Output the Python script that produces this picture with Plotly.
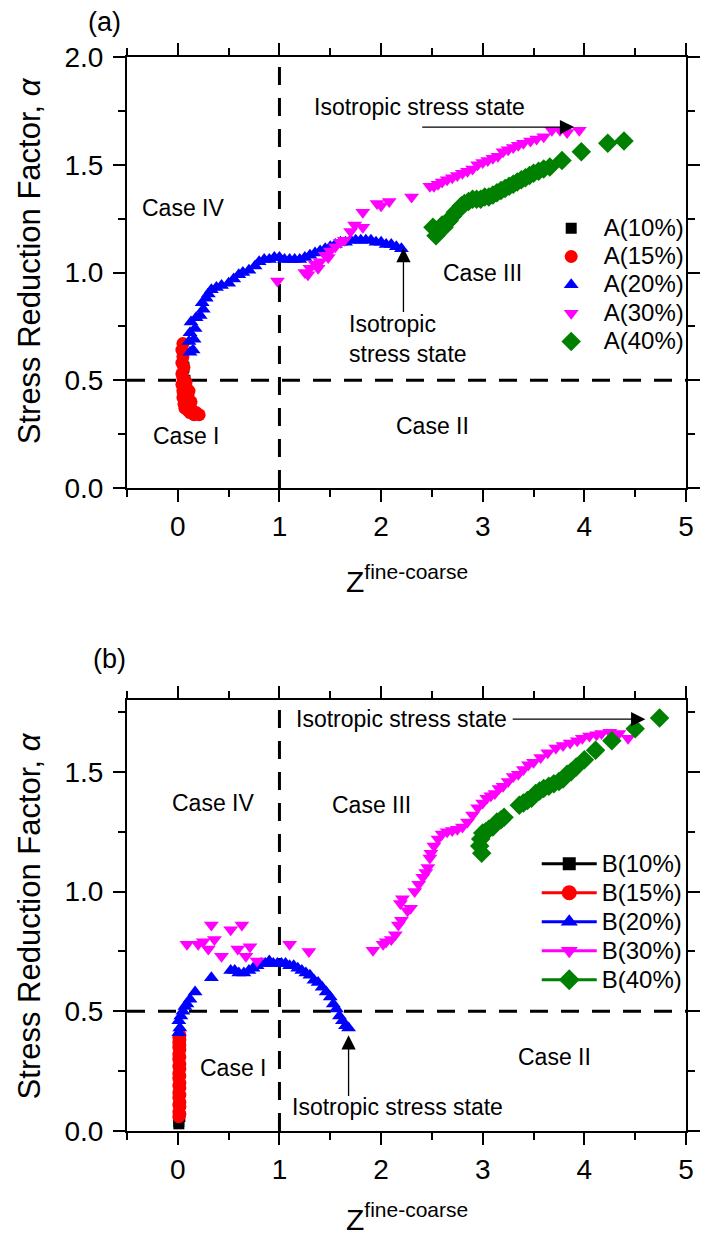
import plotly.graph_objects as go

# ---------------- panel (a) data: Z^fine-coarse vs alpha ----------------
a10_z = [0.05, 0.06, 0.05, 0.07, 0.06, 0.05]
a10_alpha = [0.44, 0.48, 0.52, 0.50, 0.56, 0.60]

a15_z = [0.05, 0.04, 0.05, 0.04, 0.06, 0.04, 0.05, 0.07, 0.04, 0.06, 0.08, 0.05, 0.07, 0.09, 0.05, 0.08,
         0.10, 0.06, 0.09, 0.11, 0.07, 0.10, 0.12, 0.08, 0.11, 0.13, 0.12, 0.14, 0.16, 0.18, 0.21]
a15_alpha = [0.67, 0.64, 0.61, 0.58, 0.56, 0.53, 0.51, 0.50, 0.48, 0.47, 0.49, 0.45, 0.44, 0.46, 0.42, 0.41,
             0.43, 0.39, 0.38, 0.40, 0.37, 0.36, 0.38, 0.42, 0.45, 0.40, 0.35, 0.36, 0.34, 0.35, 0.34]

a20_z = [0.12, 0.15, 0.11, 0.16, 0.12, 0.17, 0.13, 0.18, 0.22, 0.25, 0.24, 0.28, 0.30, 0.33, 0.38, 0.43,
         0.50, 0.55, 0.60, 0.64, 0.70, 0.76, 0.80, 0.85, 0.90, 0.95, 1.00, 1.05, 1.10, 1.15, 1.20, 1.25,
         1.30, 1.35, 1.40, 1.45, 1.50, 1.55, 1.60, 1.65, 1.70, 1.75, 1.80, 1.85, 1.90, 1.95, 2.00, 2.05,
         2.10, 2.15, 2.20]
a20_alpha = [0.63, 0.64, 0.68, 0.69, 0.72, 0.74, 0.77, 0.79, 0.80, 0.83, 0.86, 0.88, 0.90, 0.92, 0.93, 0.94,
             0.95, 0.97, 0.99, 1.00, 1.01, 1.03, 1.05, 1.06, 1.06, 1.07, 1.07, 1.06, 1.06, 1.06, 1.06, 1.07,
             1.08, 1.09, 1.10, 1.11, 1.12, 1.13, 1.14, 1.14, 1.15, 1.15, 1.15, 1.15, 1.15, 1.14, 1.14, 1.13,
             1.13, 1.12, 1.11]

a30_z = [0.98, 1.25, 1.28, 1.30, 1.35, 1.38, 1.40, 1.45, 1.48, 1.50, 1.55, 1.60, 1.64, 1.70, 1.74, 1.82,
         1.82, 1.96, 2.00, 2.08, 2.30, 2.48, 2.52, 2.56, 2.60, 2.65, 2.70, 2.75, 2.80, 2.85, 2.90, 2.95,
         3.00, 3.05, 3.10, 3.15, 3.20, 3.25, 3.30, 3.35, 3.40, 3.47, 3.53, 3.60, 3.68, 3.76, 3.83, 3.95]
a30_alpha = [0.96, 1.00, 0.99, 1.02, 1.04, 1.02, 1.05, 1.08, 1.07, 1.10, 1.12, 1.14, 1.15, 1.19, 1.22, 1.21,
             1.28, 1.32, 1.31, 1.33, 1.35, 1.40, 1.40, 1.41, 1.42, 1.43, 1.44, 1.45, 1.46, 1.47, 1.48, 1.50,
             1.51, 1.52, 1.53, 1.54, 1.56, 1.57, 1.58, 1.59, 1.60, 1.61, 1.62, 1.63, 1.66, 1.66, 1.65, 1.66]

a40_z = [2.51, 2.54, 2.56, 2.58, 2.60, 2.62, 2.64, 2.67, 2.70, 2.73, 2.76, 2.79, 2.82, 2.86, 2.90, 2.94,
         2.98, 3.02, 3.06, 3.10, 3.14, 3.18, 3.22, 3.26, 3.30, 3.34, 3.38, 3.42, 3.46, 3.50, 3.55, 3.60,
         3.66, 3.78, 3.97, 4.23, 4.39]
a40_alpha = [1.21, 1.17, 1.19, 1.20, 1.22, 1.21, 1.23, 1.24, 1.26, 1.28, 1.29, 1.31, 1.32, 1.33, 1.34, 1.34,
             1.34, 1.35, 1.35, 1.36, 1.37, 1.38, 1.39, 1.40, 1.41, 1.42, 1.43, 1.44, 1.45, 1.46, 1.47, 1.48,
             1.49, 1.52, 1.56, 1.60, 1.61]

# ---------------- panel (b) data ----------------
b10_z = [0.01, 0.01, 0.02]
b10_alpha = [0.03, 0.04, 0.06]

b15_z = [0.01, 0.02, 0.01, 0.02, 0.01, 0.02, 0.01, 0.02, 0.01, 0.02, 0.01, 0.02, 0.01, 0.02, 0.01, 0.02,
         0.01, 0.02, 0.01, 0.02, 0.01, 0.02, 0.01, 0.02, 0.01, 0.02, 0.01, 0.02]
b15_alpha = [0.06, 0.07, 0.08, 0.10, 0.11, 0.12, 0.14, 0.15, 0.16, 0.18, 0.19, 0.20, 0.22, 0.23, 0.24, 0.26,
             0.27, 0.28, 0.30, 0.31, 0.32, 0.34, 0.35, 0.36, 0.37, 0.38, 0.39, 0.40]

b20_z = [0.01, 0.02, 0.01, 0.03, 0.05, 0.07, 0.09, 0.12, 0.17, 0.33, 0.52, 0.56, 0.60, 0.65, 0.70, 0.74,
         0.78, 0.82, 0.86, 0.90, 0.94, 0.98, 1.02, 1.06, 1.10, 1.14, 1.18, 1.22, 1.26, 1.30, 1.34, 1.38,
         1.42, 1.46, 1.50, 1.53, 1.56, 1.59, 1.62, 1.65, 1.68]
b20_alpha = [0.41, 0.43, 0.46, 0.48, 0.50, 0.52, 0.53, 0.55, 0.58, 0.64, 0.67, 0.67, 0.66, 0.66, 0.67, 0.68,
             0.69, 0.70, 0.70, 0.71, 0.70, 0.70, 0.70, 0.70, 0.69, 0.69, 0.68, 0.67, 0.66, 0.65, 0.63, 0.62,
             0.60, 0.58, 0.56, 0.53, 0.51, 0.48, 0.46, 0.44, 0.43]

b30_z = [0.09, 0.20, 0.25, 0.33, 0.36, 0.30, 0.43, 0.52, 0.63, 0.59, 0.71, 0.67, 0.78, 1.10, 1.29,
         1.92, 2.02, 2.05, 2.10, 2.14, 2.17, 2.20, 2.19, 2.21, 2.26, 2.29, 2.33, 2.37, 2.41, 2.44, 2.46,
         2.48, 2.49, 2.52, 2.56, 2.60, 2.65, 2.70, 2.75, 2.80, 2.85, 2.90, 2.95, 3.00, 3.04, 3.08, 3.12,
         3.16, 3.20, 3.25, 3.30, 3.35, 3.40, 3.45, 3.50, 3.57, 3.64, 3.72, 3.79, 3.86, 3.93, 3.98, 4.05,
         4.12, 4.17, 4.25, 4.34, 4.43]
b30_alpha = [0.78, 0.78, 0.79, 0.86, 0.80, 0.76, 0.73, 0.84, 0.86, 0.76, 0.77, 0.73, 0.71, 0.78, 0.75,
             0.755, 0.78, 0.79, 0.80, 0.82, 0.86, 0.88, 0.95, 0.97, 0.92, 0.93, 1.00, 1.03, 1.06, 1.08, 1.10,
             1.14, 1.16, 1.19, 1.22, 1.24, 1.25, 1.255, 1.26, 1.27, 1.29, 1.32, 1.35, 1.37, 1.39, 1.40, 1.41,
             1.43, 1.44, 1.46, 1.48, 1.49, 1.51, 1.53, 1.54, 1.56, 1.58, 1.60, 1.61, 1.62, 1.63, 1.64, 1.65,
             1.655, 1.66, 1.665, 1.66, 1.64]

b40_z = [2.99, 2.97, 2.98, 3.00, 3.03, 3.06, 3.10, 3.14, 3.18, 3.21, 3.36, 3.40, 3.44, 3.48, 3.52, 3.56,
         3.60, 3.65, 3.70, 3.75, 3.79, 3.83, 3.87, 3.92, 4.00, 4.11, 4.27, 4.50, 4.74]
b40_alpha = [1.16, 1.19, 1.22, 1.245, 1.25, 1.26, 1.27, 1.29, 1.30, 1.31, 1.36, 1.37, 1.38, 1.39, 1.41, 1.42,
             1.43, 1.44, 1.45, 1.46, 1.47, 1.49, 1.50, 1.52, 1.55, 1.59, 1.63, 1.68, 1.725]

series_names = ["10%", "15%", "20%", "30%", "40%"]
colors = ["#000000", "#FF0000", "#0000FF", "#FF00FF", "#008000"]
symbols = ["square", "circle", "triangle-up", "triangle-down", "diamond"]
sizes = [11, 13, 13, 13, 15]

panel_a = [(a10_z, a10_alpha), (a15_z, a15_alpha), (a20_z, a20_alpha), (a30_z, a30_alpha), (a40_z, a40_alpha)]
panel_b = [(b10_z, b10_alpha), (b15_z, b15_alpha), (b20_z, b20_alpha), (b30_z, b30_alpha), (b40_z, b40_alpha)]

# region boundaries
Z_SPLIT = 1.0
ALPHA_SPLIT = 0.5

FONT = "Arial, Liberation Sans, sans-serif"


def legend_name(text):
    # legend rows are spaced by the (smaller) legend font; the label itself is drawn larger
    return '<span style="font-size:24px">' + text + "</span>"


fig = go.Figure()

for i, (zs, al) in enumerate(panel_a):
    fig.add_trace(go.Scatter(
        x=zs, y=al, mode="markers", name=legend_name("A(" + series_names[i] + ")"),
        marker=dict(symbol=symbols[i], color=colors[i], size=sizes[i]),
        xaxis="x", yaxis="y", legend="legend"))

for i, (zs, al) in enumerate(panel_b):
    fig.add_trace(go.Scatter(
        x=zs, y=al, mode="markers", name="B(" + series_names[i] + ")",
        marker=dict(symbol=symbols[i], color=colors[i], size=sizes[i]),
        xaxis="x2", yaxis="y2", showlegend=False))
    # legend entry drawn with line + marker
    fig.add_trace(go.Scatter(
        x=[None], y=[None], mode="lines+markers", name=legend_name("B(" + series_names[i] + ")"),
        line=dict(color=colors[i], width=3),
        marker=dict(symbol=symbols[i], color=colors[i], size=sizes[i] + 2),
        xaxis="x2", yaxis="y2", legend="legend2"))

axis_common = dict(
    showline=True, linecolor="black", linewidth=2, mirror="allticks",
    ticks="outside", ticklen=12, tickwidth=2, tickcolor="black",
    showgrid=False, zeroline=False,
    tickfont=dict(family=FONT, size=28, color="black"),
)
x_minor = dict(dtick=0.5, tick0=0, ticklen=7, tickwidth=2, tickcolor="black", ticks="outside")
y_minor = dict(dtick=0.25, ticklen=7, tickwidth=2, tickcolor="black", ticks="outside")

fig.update_layout(
    width=709, height=1236,
    margin=dict(l=127, r=9, t=57, b=105),
    paper_bgcolor="white", plot_bgcolor="white",
    font=dict(family=FONT, color="black"),
    xaxis=dict(domain=[0, 1], range=[-0.5, 5], dtick=1, tick0=0, anchor="y", minor=x_minor, **axis_common),
    yaxis=dict(domain=[0.5987, 1], range=[0, 2], dtick=0.5, tickformat=".1f", anchor="x",
               ticklabelstandoff=4, minor=y_minor, **axis_common),
    xaxis2=dict(domain=[0, 1], range=[-0.5, 5], dtick=1, tick0=0, anchor="y2", minor=x_minor, **axis_common),
    yaxis2=dict(domain=[0, 0.4013], range=[0, 1.8], dtick=0.5, tickformat=".1f", anchor="x2",
                ticklabelstandoff=4, minor=y_minor, **axis_common),
    legend=dict(x=0.7365, y=0.8585, xanchor="left", yanchor="top",
                font=dict(family=FONT, size=19.5, color="black"),
                bgcolor="rgba(0,0,0,0)", itemsizing="trace", itemwidth=55, tracegroupgap=0),
    legend2=dict(x=0.733, y=0.267, xanchor="left", yanchor="top",
                 font=dict(family=FONT, size=20, color="black"),
                 bgcolor="rgba(0,0,0,0)", itemsizing="trace", itemwidth=55, tracegroupgap=0),
    showlegend=True,
)

# dashed region boundaries
dash_style = dict(color="black", width=3, dash="18px,13px")
for xr, yr in (("x", "y"), ("x2", "y2")):
    fig.add_shape(type="line", xref=xr, yref=yr + " domain", x0=Z_SPLIT, x1=Z_SPLIT, y0=0, y1=1,
                  line=dash_style, layer="below")
    fig.add_shape(type="line", xref=xr + " domain", yref=yr, x0=0, x1=1, y0=ALPHA_SPLIT, y1=ALPHA_SPLIT,
                  line=dash_style, layer="below")

txt = dict(family=FONT, size=23, color="black")


def label(text, x, y, xr, yr, **kw):
    fig.add_annotation(text=text, x=x, y=y, xref=xr, yref=yr, showarrow=False, font=txt, **kw)


def arrow(x_tip, y_tip, x_tail, y_tail, xr, yr):
    fig.add_annotation(text="", x=x_tip, y=y_tip, ax=x_tail, ay=y_tail, xref=xr, yref=yr,
                       axref=xr, ayref=yr, showarrow=True, arrowhead=2, arrowsize=2.2,
                       arrowwidth=1.3, arrowcolor="black", standoff=0, startstandoff=0)


# panel (a) labels
label("Case IV", 0.05, 1.30, "x", "y")
label("Case III", 3.0, 1.0, "x", "y")
label("Case I", 0.08, 0.24, "x", "y")
label("Case II", 2.51, 0.29, "x", "y")
label("Isotropic stress state", 2.38, 1.77, "x", "y")
label("Isotropic<br>stress state", 1.66, 0.69, "x", "y", xanchor="left", align="left")
arrow(3.9, 1.675, 2.39, 1.675, "x", "y")
arrow(2.22, 1.114, 2.22, 0.81, "x", "y")

# panel (b) labels
label("Case IV", 0.35, 1.37, "x2", "y2")
label("Case III", 1.91, 1.36, "x2", "y2")
label("Case I", 0.54, 0.265, "x2", "y2")
label("Case II", 3.71, 0.31, "x2", "y2")
label("Isotropic stress state", 2.2, 1.72, "x2", "y2")
label("Isotropic stress state", 2.16, 0.10, "x2", "y2")
arrow(4.60, 1.72, 3.28, 1.72, "x2", "y2")
arrow(1.68, 0.40, 1.68, 0.14, "x2", "y2")

# axis titles and panel tags (paper coordinates, centred explicitly)
ytitle = "Stress Reduction Factor, <i>α</i>"
xtitle = "Z<sup>fine-coarse</sup>"
centre = dict(xref="paper", yref="paper", xanchor="center", yanchor="middle", showarrow=False)
for yc in (0.810, 0.200):
    fig.add_annotation(text=ytitle, x=-0.175, y=yc, textangle=-90,
                       font=dict(family=FONT, size=31, color="black"), **centre)
for yc in (0.514, -0.080):
    fig.add_annotation(text=xtitle, x=0.5, y=yc,
                       font=dict(family=FONT, size=30, color="black"), **centre)
fig.add_annotation(text="(a)", x=-0.040, y=1.0326, font=dict(family=FONT, size=27, color="black"), **centre)
fig.add_annotation(text="(b)", x=-0.031, y=0.4395, font=dict(family=FONT, size=27, color="black"), **centre)

fig.write_html("out.html")
